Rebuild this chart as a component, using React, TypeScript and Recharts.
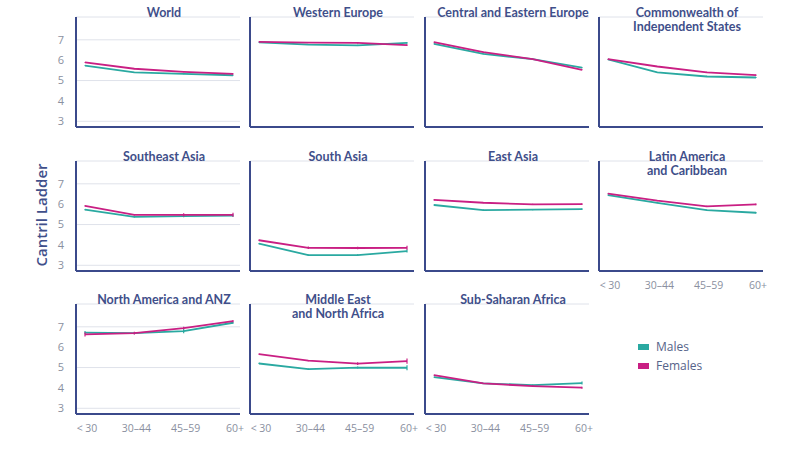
import { LineChart, Line, XAxis, YAxis, CartesianGrid, ErrorBar } from 'recharts'

const AGE_GROUPS = ['< 30', '30–44', '45–59', '60+']

const REGIONS = [
  'World',
  'Western Europe',
  'Central and Eastern Europe',
  'Commonwealth of\nIndependent States',
  'Southeast Asia',
  'South Asia',
  'East Asia',
  'Latin America\nand Caribbean',
  'North America and ANZ',
  'Middle East\nand North Africa',
  'Sub-Saharan Africa',
]

// mean Cantril ladder score by age group, one row per region
const MALES = [
  [5.73, 5.4, 5.33, 5.26],
  [6.88, 6.76, 6.73, 6.85],
  [6.8, 6.31, 6.05, 5.64],
  [6.04, 5.4, 5.2, 5.15],
  [5.73, 5.38, 5.41, 5.44],
  [4.06, 3.5, 3.5, 3.7],
  [5.96, 5.71, 5.73, 5.76],
  [6.45, 6.06, 5.71, 5.58],
  [6.71, 6.69, 6.79, 7.2],
  [5.2, 4.92, 5.0, 4.99],
  [4.53, 4.22, 4.14, 4.24],
]

const FEMALES = [
  [5.89, 5.58, 5.43, 5.33],
  [6.9, 6.86, 6.85, 6.74],
  [6.89, 6.4, 6.05, 5.53],
  [6.05, 5.69, 5.4, 5.27],
  [5.92, 5.48, 5.48, 5.48],
  [4.23, 3.86, 3.85, 3.86],
  [6.21, 6.07, 5.99, 6.0],
  [6.52, 6.17, 5.89, 5.99],
  [6.63, 6.69, 6.94, 7.28],
  [5.66, 5.34, 5.19, 5.32],
  [4.63, 4.22, 4.09, 4.01],
]

// half-width of the confidence interval at each point
const MALE_ERR = [
  [0.02, 0.02, 0.02, 0.03],
  [0.02, 0.02, 0.03, 0.04],
  [0.02, 0.02, 0.02, 0.03],
  [0.02, 0.02, 0.03, 0.03],
  [0.03, 0.03, 0.05, 0.06],
  [0.03, 0.03, 0.04, 0.07],
  [0.03, 0.03, 0.03, 0.04],
  [0.02, 0.02, 0.03, 0.04],
  [0.08, 0.05, 0.1, 0.05],
  [0.03, 0.03, 0.05, 0.12],
  [0.02, 0.02, 0.03, 0.07],
]

const FEMALE_ERR = [
  [0.02, 0.02, 0.02, 0.03],
  [0.02, 0.02, 0.03, 0.04],
  [0.02, 0.02, 0.02, 0.03],
  [0.02, 0.02, 0.03, 0.03],
  [0.03, 0.03, 0.08, 0.1],
  [0.04, 0.06, 0.06, 0.1],
  [0.03, 0.03, 0.03, 0.04],
  [0.02, 0.02, 0.03, 0.04],
  [0.1, 0.07, 0.06, 0.05],
  [0.03, 0.03, 0.07, 0.13],
  [0.02, 0.02, 0.03, 0.05],
]

const Y_TICKS = [3, 4, 5, 6, 7]

const MALE_COLOR = '#2aa9a1'
const FEMALE_COLOR = '#c91f83'
const AXIS_COLOR = '#3b4a8b'
const TITLE_COLOR = '#3f4f8a'
const TICK_COLOR = '#8a90a0'
const FONT = '"Open Sans", "Noto Sans", sans-serif'
const TITLE_FONT = 'Lato, "Open Sans", sans-serif'

const PLOT_LEFT = [76, 250, 425, 599]
const PLOT_TOP = [17, 160.5, 303.5]
const PLOT_W = 164
const PLOT_H = 110
const Y_AXIS_W = 40
const TOP_M = 20
const X_AXIS_H = 30

function Panel({ index }: { index: number }) {
  const col = index % 4
  const row = Math.floor(index / 4)
  const showX = row === 2 || (row === 1 && col === 3)
  const showY = col === 0
  const data = AGE_GROUPS.map((age, i) => ({
    age,
    males: MALES[index][i],
    females: FEMALES[index][i],
    mErr: MALE_ERR[index][i],
    fErr: FEMALE_ERR[index][i],
  }))
  const left = PLOT_LEFT[col]
  const top = PLOT_TOP[row]

  return (
    <>
      <div
        style={{
          position: 'absolute',
          left: left + PLOT_W / 2 + 6 - 100,
          top: top - 11,
          width: 200,
          textAlign: 'center',
          whiteSpace: 'pre-line',
          fontFamily: TITLE_FONT,
          fontWeight: 700,
          fontSize: 12.5,
          lineHeight: '14px',
          color: TITLE_COLOR,
          zIndex: 2,
        }}
      >
        {REGIONS[index]}
      </div>
      <div style={{ position: 'absolute', left: left - Y_AXIS_W, top: top - TOP_M }}>
        <LineChart
          width={Y_AXIS_W + PLOT_W + 10}
          height={TOP_M + PLOT_H + X_AXIS_H}
          data={data}
          margin={{ top: TOP_M, right: 10, bottom: 0, left: 0 }}
        >
          <CartesianGrid vertical={false} stroke="#dfe2ea" strokeWidth={1} />
          <XAxis
            dataKey="age"
            height={X_AXIS_H}
            interval={0}
            padding={{ left: 9, right: 7 }}
            axisLine={{ stroke: AXIS_COLOR, strokeWidth: 2 }}
            tickLine={false}
            tickSize={6}
            tickMargin={5}
            tick={showX ? { fill: TICK_COLOR, fontSize: 10.5, fontFamily: FONT, dx: 2 } : false}
          />
          <YAxis
            type="number"
            domain={[2.72, 8.12]}
            ticks={Y_TICKS}
            width={Y_AXIS_W}
            axisLine={{ stroke: AXIS_COLOR, strokeWidth: 2 }}
            tickLine={false}
            tickSize={6}
            tickMargin={6}
            tick={showY ? { fill: TICK_COLOR, fontSize: 11, fontFamily: FONT } : false}
          />
          <Line
            dataKey="males"
            stroke={MALE_COLOR}
            strokeWidth={1.8}
            dot={false}
            isAnimationActive={false}
          >
            <ErrorBar dataKey="mErr" width={0} stroke={MALE_COLOR} strokeWidth={1.2} />
          </Line>
          <Line
            dataKey="females"
            stroke={FEMALE_COLOR}
            strokeWidth={1.8}
            dot={false}
            isAnimationActive={false}
          >
            <ErrorBar dataKey="fErr" width={0} stroke={FEMALE_COLOR} strokeWidth={1.2} />
          </Line>
        </LineChart>
      </div>
    </>
  )
}

const LEGEND = [
  { label: 'Males', color: MALE_COLOR },
  { label: 'Females', color: FEMALE_COLOR },
]

export default function App() {
  return (
    <div
      style={{
        position: 'absolute',
        left: 0,
        top: 0,
        width: 800,
        height: 450,
        background: '#ffffff',
        overflow: 'hidden',
        fontFamily: FONT,
      }}
    >
      {REGIONS.map((_, i) => (
        <Panel key={i} index={i} />
      ))}

      <div
        style={{
          position: 'absolute',
          left: 41,
          top: 215,
          transform: 'translate(-50%, -50%) rotate(-90deg)',
          whiteSpace: 'nowrap',
          fontSize: 15,
          fontWeight: 600,
          color: TITLE_COLOR,
        }}
      >
        Cantril Ladder
      </div>

      {LEGEND.map((item, i) => (
        <div
          key={item.label}
          style={{
            position: 'absolute',
            left: 638,
            top: 338 + i * 19,
            display: 'flex',
            alignItems: 'center',
            fontSize: 12,
            color: '#56648a',
          }}
        >
          <span style={{ display: 'inline-block', width: 11, height: 6, background: item.color, marginRight: 7 }} />
          {item.label}
        </div>
      ))}
    </div>
  )
}
